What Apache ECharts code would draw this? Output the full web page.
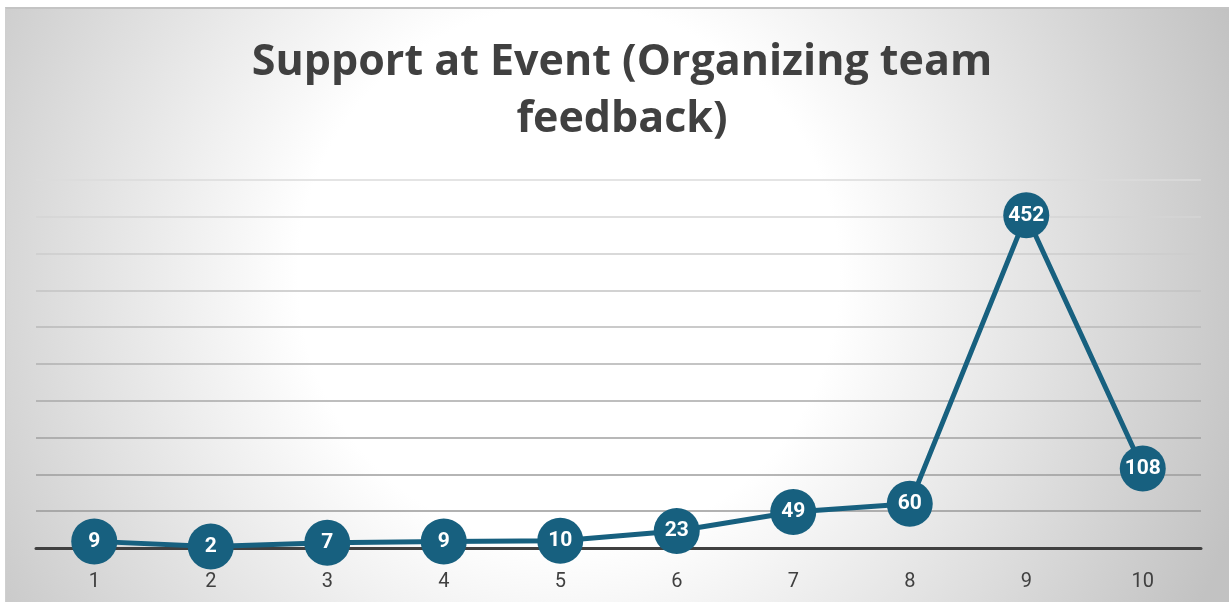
<!DOCTYPE html>
<html>
<head>
<meta charset="utf-8">
<script src="https://cdn.jsdelivr.net/npm/echarts@6/dist/echarts.min.js"></script>
<style>
  html, body { margin: 0; padding: 0; background: #fff; }
  #chart {
    position: absolute; left: 5px; top: 7px; width: 1224px; height: 595px;
    border-top: 2px solid #c4c4c4; border-left: 1px solid #cfcfcf; box-sizing: border-box;
  }
</style>
</head>
<body>
<div id="chart"></div>
<script>
const TITLE = 'Support at Event (Organizing team\nfeedback)'
const CATEGORIES = ['1', '2', '3', '4', '5', '6', '7', '8', '9', '10']
const VALUES = [9, 2, 7, 9, 10, 23, 49, 60, 452, 108]

// gridlines fade out toward the top (index 0 = value 0, hidden under the axis line)
const GRID_COLORS = ['#404040', '#999999', '#9c9c9c', '#a1a1a1', '#a8a8a8', '#b0b0b0',
  '#b9b9b9', '#c3c3c3', '#cccccc', '#d4d4d4', '#dbdbdb']

const chart = echarts.init(document.getElementById('chart'), null, { renderer: 'canvas' })

chart.setOption({
  animation: false,
  backgroundColor: {
    type: 'radial', x: 0.46, y: 0.45, r: 1.2,
    colorStops: [
      { offset: 0, color: '#ffffff' },
      { offset: 0.38, color: '#ffffff' },
      { offset: 1, color: '#c2c2c2' },
    ],
  },
  title: {
    text: TITLE,
    left: 611, top: 20,
    textAlign: 'center',
    textStyle: {
      fontFamily: 'Open Sans', fontWeight: 'bold', fontSize: 43,
      color: '#404040', lineHeight: 57,
    },
  },
  grid: { left: 30, right: 28, top: 171, bottom: 54 },
  xAxis: {
    type: 'category',
    data: CATEGORIES,
    boundaryGap: true,
    axisLine: { lineStyle: { color: '#404040', width: 3 } },
    axisTick: { show: false },
    axisLabel: { color: '#404040', fontSize: 20, fontFamily: 'Roboto', margin: 24 },
  },
  yAxis: {
    type: 'value', min: 0, max: 500, interval: 50,
    axisLine: { show: false },
    axisTick: { show: false },
    axisLabel: { show: false },
    splitLine: { lineStyle: { color: GRID_COLORS, width: 1.5 } },
  },
  series: [{
    type: 'line',
    data: VALUES,
    symbol: 'circle',
    symbolSize: 46,
    lineStyle: { color: '#17607f', width: 5 },
    itemStyle: { color: '#17607f' },
    label: {
      show: true, position: 'inside',
      color: '#ffffff', fontWeight: 'bold', fontSize: 21, fontFamily: 'Roboto',
    },
    z: 3,
  }],
})
</script>
</body>
</html>
